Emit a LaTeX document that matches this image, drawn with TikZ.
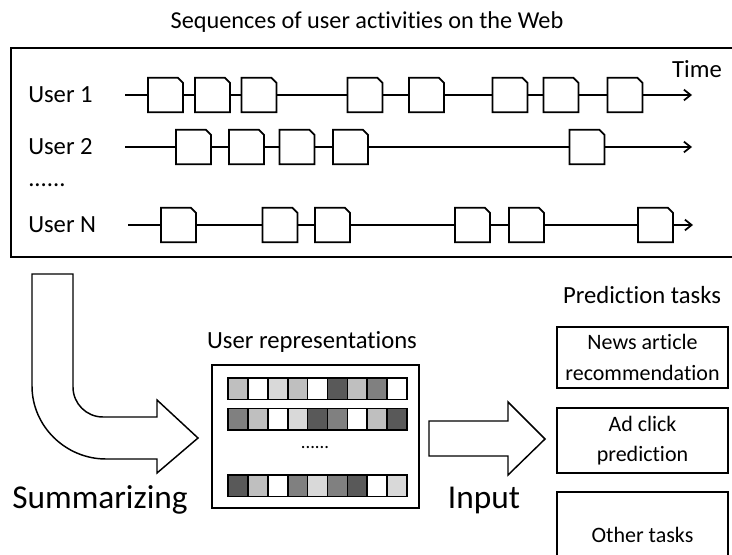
\documentclass[tikz,border=0pt]{standalone}
\usepackage{fontspec}
\setmainfont[Ligatures=NoCommon]{Carlito}
\usetikzlibrary{arrows.meta}

\definecolor{gLight}{HTML}{D9D9D9}
\definecolor{gMid}{HTML}{BFBFBF}
\definecolor{gMed}{HTML}{808080}
\definecolor{gDark}{HTML}{595959}

\tikzset{
  boxline/.style={line width=1.3pt, line join=miter},
  % one web activity: a box with its upper right corner cut off
  actv/.style={rectangle, inner sep=0pt, minimum width=26pt, minimum height=25.5pt,
    append after command={\pgfextra{\draw[boxline, fill=white]
      (\tikzlastnode.south west) -- (\tikzlastnode.north west)
      -- ([xshift=-3.9pt]\tikzlastnode.north east)
      -- ([yshift=-3.9pt]\tikzlastnode.north east)
      -- (\tikzlastnode.south east) -- cycle;}}},
  timeline/.style={line width=1.3pt, -{Straight Barb[length=5pt,width=8pt,line width=1.3pt]}},
  seg/.style={line width=1.3pt},
  lbl/.style={font=\fontsize{18.5pt}{22pt}\selectfont, inner sep=0pt},
  big/.style={font=\fontsize{25pt}{30pt}\selectfont, inner sep=0pt},
  cell/.style={draw, line width=1.2pt, minimum width=14.9pt, minimum height=16.1pt, inner sep=0pt},
  task/.style={draw, line width=1pt, minimum width=128.25pt, align=center,
    inner sep=0pt, font=\fontsize{16.5pt}{23pt}\selectfont},
  fatarrow/.style={draw, line width=1.1pt, fill=white, line join=miter}
}

\begin{document}
\begin{tikzpicture}[x=0.75pt, y=-0.75pt]
\clip (0,0) rectangle (732,554);

% ---------- activity sequences ----------
\node[lbl, font=\fontsize{18.2pt}{22pt}\selectfont] (title) at (367,22) {Sequences of user activities on the Web};
\node[draw, line width=1.3pt, minimum width=544.5pt, minimum height=156.75pt, inner sep=0pt] (frame) at (374,152.5) {};
\node[lbl] (time) at (697,69) {Time};

\node[lbl, anchor=west] (u1) at (28,95) {User 1};
\node[lbl, anchor=west] (u2) at (28,147) {User 2};
\node[lbl, anchor=west] (udots) at (28,185) {......};
\node[lbl, anchor=west] (uN) at (28,225) {User N};

% user 1
\coordinate (s1) at (125,95);
\coordinate (e1) at (692,95);
\foreach \x [count=\i] in {165.5,212.5,259,365,426.5,510,561,625}
  \node[actv] (a1\i) at (\x,95) {};
\draw[seg] (s1) -- (a11) -- (a12) -- (a13) -- (a14) -- (a15) -- (a16) -- (a17) -- (a18);
\draw[timeline] (a18) -- (e1);

% user 2
\coordinate (s2) at (125,147);
\coordinate (e2) at (692,147);
\foreach \x [count=\i] in {193.5,246.5,297,350.5,587}
  \node[actv] (a2\i) at (\x,147) {};
\draw[seg] (s2) -- (a21) -- (a22) -- (a23) -- (a24) -- (a25);
\draw[timeline] (a25) -- (e2);

% user N
\coordinate (sN) at (128,225);
\coordinate (eN) at (693,225);
\foreach \x [count=\i] in {178.5,280,332.5,472.5,526.5,655.5}
  \node[actv] (aN\i) at (\x,225) {};
\draw[seg] (sN) -- (aN1) -- (aN2) -- (aN3) -- (aN4) -- (aN5) -- (aN6);
\draw[timeline] (aN6) -- (eN);

% ---------- summarizing arrow ----------
\draw[fatarrow] (32,274) -- (73,274) -- (73,387)
  .. controls (73,403.6) and (86.4,417) .. (103,417)
  -- (157,417) -- (157,400) -- (198,438) -- (157,473) -- (157,459) -- (106,459)
  .. controls (65.7,459) and (32,426.3) .. (32,386) -- cycle;
\node[big] (summ) at (100,500) {Summarizing};

% ---------- user representations ----------
\node[lbl] (reptitle) at (312,342) {User representations};
\node[draw, line width=1pt, minimum width=155.25pt, minimum height=107.25pt, inner sep=0pt] (rep) at (315.5,436.5) {};
\foreach \c [count=\i] in {gMid,white,gLight,gMid,white,gDark,gMid,gMed,white}
  \node[cell, fill=\c] (ra\i) at ({228+19.9*(\i-0.5)},388.75) {};
\foreach \c [count=\i] in {gMed,gMid,white,gLight,gDark,gMed,white,gMid,gDark}
  \node[cell, fill=\c] (rb\i) at ({228+19.9*(\i-0.5)},419.25) {};
\foreach \c [count=\i] in {gDark,gMid,white,gMed,gLight,gMed,gDark,white,gLight}
  \node[cell, fill=\c] (rc\i) at ({228+19.9*(\i-0.5)},485.75) {};
\node[inner sep=0pt, font=\fontsize{14pt}{16pt}\selectfont] (repdots) at (315,448) {......};

% ---------- input arrow ----------
\draw[fatarrow] (429,421) -- (508,421) -- (508,402) -- (545,439)
  -- (508,475) -- (508,456) -- (429,456) -- cycle;
\node[big] (input) at (484,500) {Input};

% ---------- prediction tasks ----------
\node[lbl] (predtitle) at (642,295) {Prediction tasks};
\node[task, minimum height=45.75pt] (t1) at (642.5,357.5) {News article\\recommendation};
\node[task, minimum height=48.75pt, font=\fontsize{16.5pt}{22pt}\selectfont] (t2) at (642.5,440.5) {Ad click\\prediction};
\node[task, minimum height=64.5pt] (t3) at (642.5,535) {Other tasks};

\end{tikzpicture}
\end{document}
